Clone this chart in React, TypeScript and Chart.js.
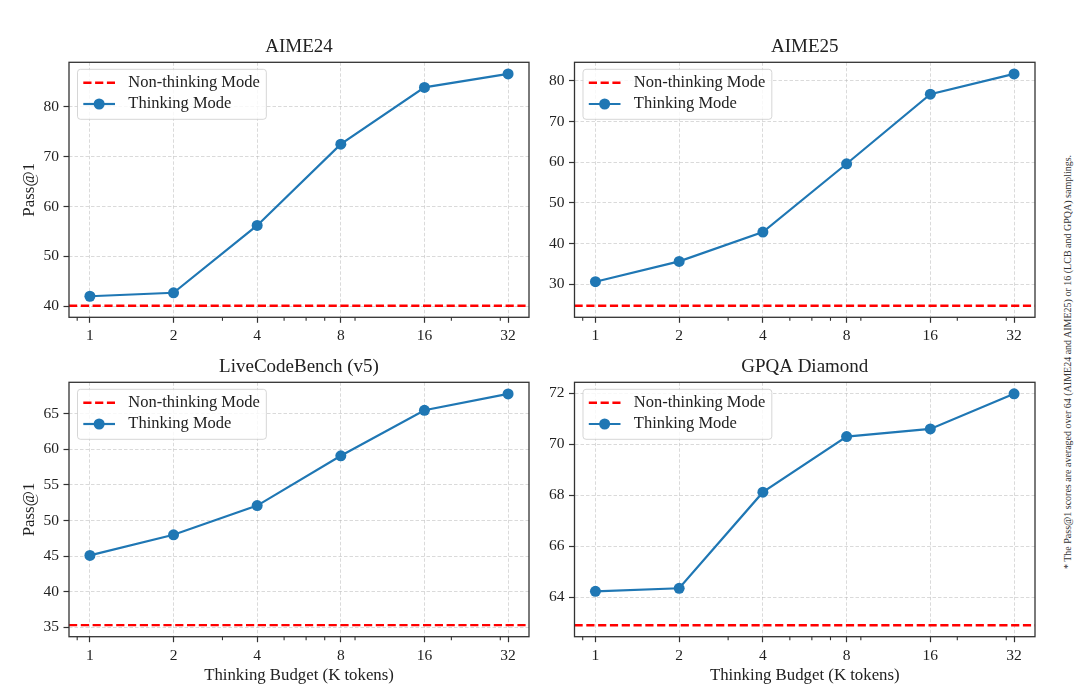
import React, { useEffect, useRef } from "react";
import { Chart, registerables } from "chart.js";

Chart.register(...registerables);

// ---------------- data ----------------
const BUDGETS = [1, 2, 4, 8, 16, 32];
const X_TICKS = [1, 2, 4, 8, 16, 32];
const X_MINOR_TICKS = [0.9, 3, 5, 6, 7, 9, 20, 30];
const X_LIMITS = [0.8409, 38.055];
const SERIES_LABELS = ["Non-thinking Mode", "Thinking Mode"];
const X_TITLE = "Thinking Budget (K tokens)";
const Y_TITLE = "Pass@1";
const FOOTNOTE =
  "* The Pass@1 scores are averaged over 64 (AIME24 and AIME25) or 16 (LCB and GPQA) samplings.";

const AIME24_THINKING = [42.0, 42.7, 56.2, 72.5, 83.9, 86.6];
const AIME24_NON_THINKING = 40.1;
const AIME24_Y_TICKS = [40, 50, 60, 70, 80];
const AIME24_Y_LIMITS = [37.78, 88.93];

const AIME25_THINKING = [30.6, 35.6, 42.8, 59.6, 76.7, 81.7];
const AIME25_NON_THINKING = 24.7;
const AIME25_Y_TICKS = [30, 40, 50, 60, 70, 80];
const AIME25_Y_LIMITS = [21.85, 84.55];

const LCB_THINKING = [45.1, 48.0, 52.1, 59.1, 65.5, 67.8];
const LCB_NON_THINKING = 35.3;
const LCB_Y_TICKS = [35, 40, 45, 50, 55, 60, 65];
const LCB_Y_LIMITS = [33.68, 69.43];

const GPQA_THINKING = [64.23, 64.35, 68.12, 70.3, 70.6, 71.98];
const GPQA_NON_THINKING = 62.9;
const GPQA_Y_TICKS = [64, 66, 68, 70, 72];
const GPQA_Y_LIMITS = [62.45, 72.43];

// ---------------- styles ----------------
const FONT = '"Liberation Serif", "Times New Roman", serif';
const TEXT_COLOR = "#222222";
const SPINE_COLOR = "#333333";
const GRID_COLOR = "rgba(176,176,176,0.6)";
const BLUE = "#1f77b4";
const RED = "#ff0000";

const mplPlugin = {
  id: "mplDecor",
  afterDatasetsDraw(chart: any) {
    const { ctx, chartArea: a, scales } = chart;
    const xs = scales.x;
    ctx.save();
    ctx.strokeStyle = SPINE_COLOR;
    ctx.lineWidth = 1.1;
    ctx.setLineDash([]);
    for (const v of X_MINOR_TICKS) {
      if (v < xs.min || v > xs.max) continue;
      const px = xs.getPixelForValue(v);
      ctx.beginPath();
      ctx.moveTo(px, a.bottom);
      ctx.lineTo(px, a.bottom + 3.5);
      ctx.stroke();
    }
    ctx.lineWidth = 1.3;
    ctx.strokeRect(a.left, a.top, a.right - a.left, a.bottom - a.top);
    ctx.restore();
  },
  afterDraw(chart: any) {
    const { ctx, chartArea: a } = chart;
    const ds = chart.data.datasets;
    const fx = a.left + 8.5;
    const fy = a.top + 7;
    const textOff = 50.8;
    ctx.save();
    ctx.font = `16.5px ${FONT}`;
    let maxW = 0;
    for (const d of ds) maxW = Math.max(maxW, ctx.measureText(d.label).width);
    const w = textOff + maxW + 6.5;
    const h = 50;
    ctx.beginPath();
    ctx.roundRect(fx, fy, w, h, 3);
    ctx.fillStyle = "rgba(255,255,255,0.8)";
    ctx.fill();
    ctx.strokeStyle = "rgba(204,204,204,0.8)";
    ctx.lineWidth = 1;
    ctx.stroke();
    const rows = [13.4, 34.7];
    ds.forEach((d: any, i: number) => {
      const y = fy + rows[i];
      const x0 = fx + 5.8;
      const x1 = fx + 37.5;
      ctx.strokeStyle = d.borderColor;
      ctx.lineWidth = d.borderWidth;
      ctx.setLineDash(d.borderDash || []);
      ctx.beginPath();
      ctx.moveTo(x0, y);
      ctx.lineTo(x1, y);
      ctx.stroke();
      ctx.setLineDash([]);
      if (d.pointRadius > 0) {
        ctx.fillStyle = d.pointBackgroundColor;
        ctx.beginPath();
        ctx.arc((x0 + x1) / 2, y, d.pointRadius, 0, Math.PI * 2);
        ctx.fill();
      }
      ctx.fillStyle = TEXT_COLOR;
      ctx.textBaseline = "middle";
      ctx.textAlign = "left";
      ctx.fillText(d.label, fx + textOff, y);
    });
    ctx.restore();
  },
};

type Box = { left: number; top: number; width: number; height: number };
type Area = { left: number; top: number; right: number; bottom: number };

type PanelProps = {
  title: string;
  thinking: number[];
  nonThinking: number;
  yTicks: number[];
  yLimits: number[];
  showYTitle: boolean;
  showXTitle: boolean;
  box: Box;
  area: Area;
  titleCenter: number;
  xTitleCenter?: number;
};

function Panel(p: PanelProps) {
  const ref = useRef<HTMLCanvasElement>(null);
  useEffect(() => {
    const titleSize = 19;
    const padTop = p.titleCenter - titleSize / 2;
    const titlePadBottom = p.area.top - padTop - titleSize;
    const xH = p.showXTitle ? 52 : 32;
    const padBottom = p.box.height - p.area.bottom - xH;
    const padRight = p.box.width - p.area.right;
    const axisTitleSize = 16.8;
    const xTitlePadBottom = p.showXTitle
      ? p.area.bottom + xH - (p.xTitleCenter as number) - axisTitleSize / 2
      : 0;

    const tickFont = { family: FONT, size: 15.5, lineHeight: 1 };
    const grid = {
      color: GRID_COLOR,
      lineWidth: 0.8,
      drawTicks: true,
      tickLength: 5.5,
      tickColor: SPINE_COLOR,
      tickWidth: 1.2,
    };

    const chart = new Chart(ref.current as HTMLCanvasElement, {
      type: "line",
      data: {
        datasets: [
          {
            label: SERIES_LABELS[0],
            data: [
              { x: X_LIMITS[0], y: p.nonThinking },
              { x: X_LIMITS[1], y: p.nonThinking },
            ],
            borderColor: RED,
            backgroundColor: RED,
            borderWidth: 2.4,
            borderDash: [8.2, 3.6],
            pointRadius: 0,
            pointBackgroundColor: RED,
            fill: false,
          } as any,
          {
            label: SERIES_LABELS[1],
            data: BUDGETS.map((b, i) => ({ x: b, y: p.thinking[i] })),
            borderColor: BLUE,
            backgroundColor: BLUE,
            borderWidth: 2.2,
            pointRadius: 5.5,
            pointBorderWidth: 0,
            pointBackgroundColor: BLUE,
            pointBorderColor: BLUE,
            tension: 0,
            fill: false,
          } as any,
        ],
      },
      options: {
        responsive: false,
        animation: false,
        events: [],
        layout: {
          autoPadding: false,
          padding: { left: 0, right: padRight, top: padTop, bottom: padBottom },
        },
        plugins: {
          legend: { display: false },
          tooltip: { enabled: false },
          title: {
            display: true,
            text: p.title,
            fullSize: false,
            color: TEXT_COLOR,
            font: { family: FONT, size: titleSize, weight: "normal", lineHeight: 1 },
            padding: { top: 0, bottom: titlePadBottom },
          },
        },
        scales: {
          x: {
            type: "logarithmic",
            min: X_LIMITS[0],
            max: X_LIMITS[1],
            bounds: "data",
            afterBuildTicks: (s: any) => {
              s.ticks = X_TICKS.map((v) => ({ value: v }));
            },
            afterFit: (s: any) => {
              s.height = xH;
            },
            ticks: {
              callback: (v: any) => String(v),
              color: TEXT_COLOR,
              font: tickFont,
              padding: 5.6,
              maxRotation: 0,
              minRotation: 0,
              autoSkip: false,
            },
            grid,
            border: { display: false, dash: [3.5, 2] },
            title: p.showXTitle
              ? {
                  display: true,
                  text: X_TITLE,
                  color: TEXT_COLOR,
                  font: { family: FONT, size: axisTitleSize, lineHeight: 1 },
                  padding: { top: 0, bottom: xTitlePadBottom },
                }
              : { display: false },
          } as any,
          y: {
            type: "linear",
            min: p.yLimits[0],
            max: p.yLimits[1],
            bounds: "data",
            afterBuildTicks: (s: any) => {
              s.ticks = p.yTicks.map((v) => ({ value: v }));
            },
            afterFit: (s: any) => {
              s.width = p.area.left;
            },
            ticks: {
              callback: (v: any) => String(v),
              color: TEXT_COLOR,
              font: tickFont,
              padding: 4.5,
              autoSkip: false,
            },
            grid,
            border: { display: false, dash: [3.5, 2] },
            title: p.showYTitle
              ? {
                  display: true,
                  text: Y_TITLE,
                  color: TEXT_COLOR,
                  font: { family: FONT, size: axisTitleSize, lineHeight: 1 },
                  padding: { top: 30 - axisTitleSize / 2, bottom: 0 },
                }
              : { display: false },
          } as any,
        },
      },
      plugins: [mplPlugin],
    } as any);
    return () => chart.destroy();
  }, []);
  return (
    <canvas
      ref={ref}
      width={p.box.width}
      height={p.box.height}
      style={{
        position: "absolute",
        left: p.box.left,
        top: p.box.top,
        width: p.box.width,
        height: p.box.height,
      }}
    />
  );
}

export default function App() {
  const leftArea = { left: 69, right: 529 };
  const rightArea = { left: 29.5, right: 490 };
  const topRow = { top: 62.3, bottom: 317.3 };
  const bottomRow = { top: 32.3, bottom: 286.7 };
  return (
    <div
      style={{
        position: "fixed",
        left: 0,
        top: 0,
        width: 1080,
        height: 700,
        background: "#ffffff",
        overflow: "hidden",
      }}
    >
      <Panel
        title="AIME24"
        thinking={AIME24_THINKING}
        nonThinking={AIME24_NON_THINKING}
        yTicks={AIME24_Y_TICKS}
        yLimits={AIME24_Y_LIMITS}
        showYTitle={true}
        showXTitle={false}
        box={{ left: 0, top: 0, width: 545, height: 350 }}
        area={{ ...leftArea, ...topRow }}
        titleCenter={47}
      />
      <Panel
        title="AIME25"
        thinking={AIME25_THINKING}
        nonThinking={AIME25_NON_THINKING}
        yTicks={AIME25_Y_TICKS}
        yLimits={AIME25_Y_LIMITS}
        showYTitle={false}
        showXTitle={false}
        box={{ left: 545, top: 0, width: 510, height: 350 }}
        area={{ ...rightArea, ...topRow }}
        titleCenter={47}
      />
      <Panel
        title="LiveCodeBench (v5)"
        thinking={LCB_THINKING}
        nonThinking={LCB_NON_THINKING}
        yTicks={LCB_Y_TICKS}
        yLimits={LCB_Y_LIMITS}
        showYTitle={true}
        showXTitle={true}
        box={{ left: 0, top: 350, width: 545, height: 350 }}
        area={{ ...leftArea, ...bottomRow }}
        titleCenter={17}
        xTitleCenter={325.5}
      />
      <Panel
        title="GPQA Diamond"
        thinking={GPQA_THINKING}
        nonThinking={GPQA_NON_THINKING}
        yTicks={GPQA_Y_TICKS}
        yLimits={GPQA_Y_LIMITS}
        showYTitle={false}
        showXTitle={true}
        box={{ left: 545, top: 350, width: 510, height: 350 }}
        area={{ ...rightArea, ...bottomRow }}
        titleCenter={17}
        xTitleCenter={325.5}
      />
      <div
        style={{
          position: "absolute",
          left: 1068,
          top: 362,
          transform: "translate(-50%, -50%) rotate(-90deg)",
          whiteSpace: "nowrap",
          fontFamily: FONT,
          fontSize: 10,
          color: "#333333",
          lineHeight: 1,
        }}
      >
        {FOOTNOTE}
      </div>
    </div>
  );
}
